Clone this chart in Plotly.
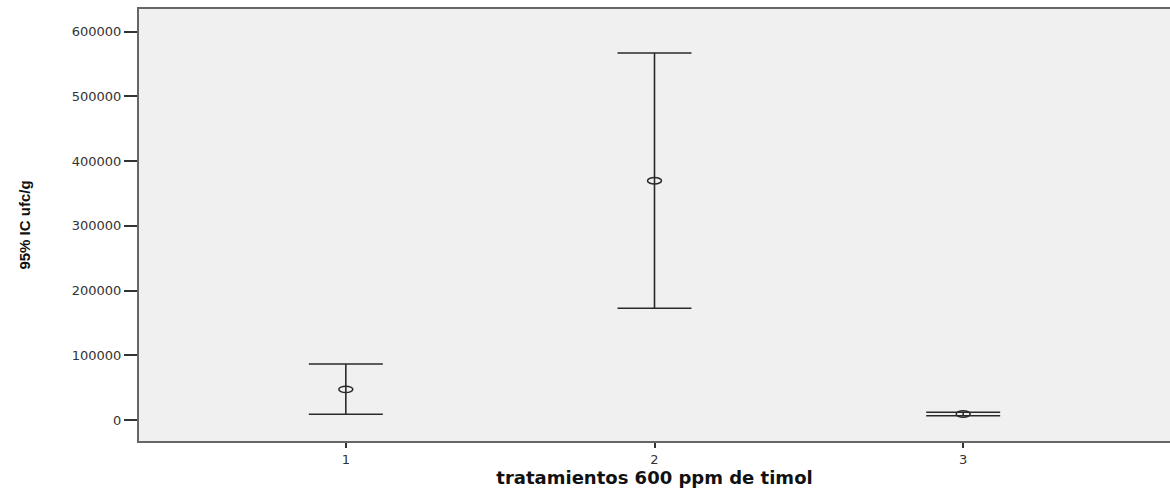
import plotly.graph_objects as go

categories = [1, 2, 3]
tick_labels = ["1", "2", "3"]
means = [47400, 369700, 9300]
upper = [86500, 567000, 11900]
lower = [8800, 172600, 6650]
y_ticks = [0, 100000, 200000, 300000, 400000, 500000, 600000]
y_tick_labels = ["0", "100000", "200000", "300000", "400000", "500000", "600000"]

err_plus = [u - m for u, m in zip(upper, means)]
err_minus = [m - l for m, l in zip(means, lower)]

fig = go.Figure()
fig.add_trace(go.Scatter(
    x=categories, y=means, mode="markers",
    marker=dict(size=1, color="rgba(0,0,0,0)"),
    error_y=dict(type="data", symmetric=False, array=err_plus, arrayminus=err_minus,
                 color="#2a2a2a", thickness=1.6, width=37),
    showlegend=False, hoverinfo="skip",
))

# elliptical open markers anchored at data points
for c, m in zip(categories, means):
    fig.add_shape(type="circle", xref="x", yref="y",
                  xsizemode="pixel", ysizemode="pixel",
                  xanchor=c, yanchor=m,
                  x0=-7, x1=7, y0=-3.2, y1=3.2,
                  line=dict(color="#2a2a2a", width=1.5),
                  fillcolor="rgba(0,0,0,0)")

fig.update_layout(
    width=1170, height=489,
    margin=dict(l=139, r=0, t=9, b=48),
    paper_bgcolor="white", plot_bgcolor="#F0F0F0",
    font=dict(family="DejaVu Sans, Verdana, sans-serif", size=12, color="#333333"),
)
fig.update_xaxes(
    range=[0.33, 3.67], tickvals=categories, ticktext=tick_labels,
    showgrid=False, zeroline=False,
    showline=True, mirror=True, linecolor="#666666", linewidth=2,
    ticks="outside", ticklen=5, tickwidth=1.5, tickcolor="#333333",
    tickfont=dict(size=13, color="#333333"),
    title=dict(text="<b>tratamientos 600 ppm de timol</b>",
               font=dict(family="DejaVu Sans, Verdana, sans-serif", size=18, color="#111111"),
               standoff=4),
)
fig.update_yaxes(
    range=[-32450, 635100], tickvals=y_ticks, ticktext=y_tick_labels,
    showgrid=False, zeroline=False,
    showline=True, linecolor="#666666", linewidth=2,
    ticks="outside", ticklen=13, tickwidth=1.5, tickcolor="#333333",
    tickfont=dict(size=13, color="#333333"),
    title=dict(text="<b>95% IC ufc/g</b>",
               font=dict(family="Liberation Sans, Arial, sans-serif", size=15, color="#111111"),
               standoff=38),
)

fig.write_html("out.html", config={"displayModeBar": False},
               post_script="document.body.style.margin='0';document.body.style.overflow='hidden';")
